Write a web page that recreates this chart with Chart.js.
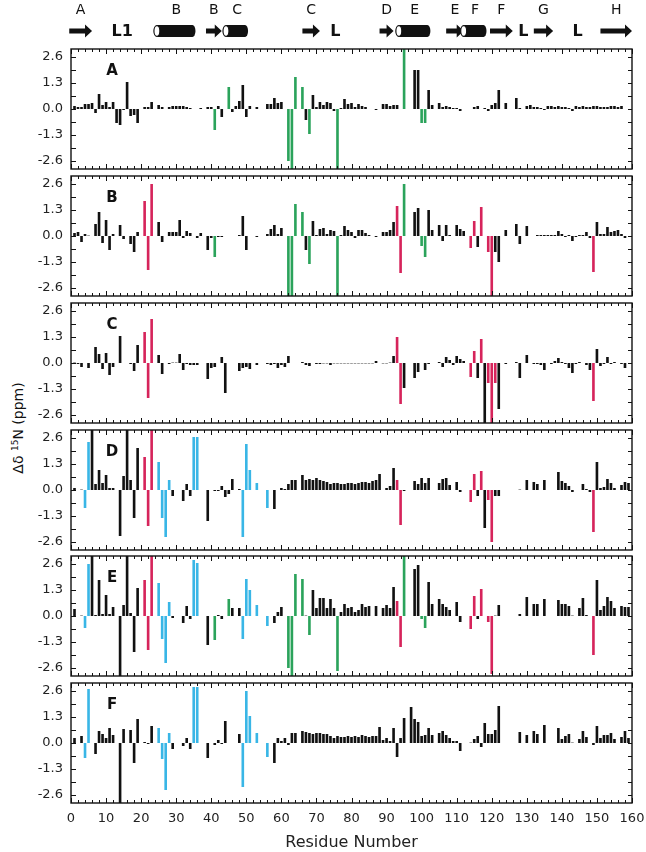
<!DOCTYPE html>
<html>
<head>
<meta charset="utf-8">
<script src="https://cdn.jsdelivr.net/npm/chart.js@4.4.1/dist/chart.umd.min.js"></script>
<style>
  body { margin: 0; background: #fff; width: 646px; height: 852px; position: relative; overflow: hidden; font-family: "DejaVu Sans", sans-serif; }
  canvas { position: absolute; left: 0; }
  #ylab { position: absolute; left: 18px; top: 428px; transform: translate(-50%, -50%) rotate(-90deg); white-space: nowrap; font-size: 14px; color: #111; }
  #ylab sup { font-size: 9px; }
</style>
</head>
<body>
<div id="ylab">Δδ <sup>15</sup>N (ppm)</div>
<script>
// ---- data (chemical shift change per residue, index = residue number) ----
const _ = null;
const panelNames = ['A', 'B', 'C', 'D', 'E', 'F'];
const xTickLabels = ['0', '10', '20', '30', '40', '50', '60', '70', '80', '90', '100', '110', '120', '130', '140', '150', '160'];
const yTickValues = [-2.6, -1.95, -1.3, -0.65, 0, 0.65, 1.3, 1.95, 2.6];
const yTickLabels = ['-2.6', '', '-1.3', '', '0.0', '', '1.3', '', '2.6'];

const shiftA = [
  _, 0.15, 0.1, 0.1, 0.25, 0.25, 0.3, -0.2, 0.75, 0.2,
  0.35, 0.1, 0.35, -0.7, -0.8, -0.05, 1.35, -0.35, -0.3, -0.7,
  _, 0.1, 0.1, 0.35, _, 0.2, 0.1, _, 0.1, 0.15,
  0.15, 0.15, 0.15, 0.1, 0.05, _, _, 0.05, _, 0.1,
  0.1, -1.05, 0.15, -0.4, _, 1.1, -0.15, 0.15, 0.4, 1.2,
  -0.4, 0.15, _, 0.1, _, _, 0.25, 0.25, 0.55, 0.3,
  0.35, _, -2.6, -3.2, 1.6, _, 1.1, -0.55, -1.25, 0.7,
  0.1, 0.35, 0.2, 0.35, 0.3, -0.1, -3.2, 0.05, 0.5, 0.25,
  0.3, 0.1, 0.25, 0.15, 0.1, _, _, -0.05, _, 0.25,
  0.25, 0.15, 0.2, 0.2, _, 3.2, _, _, 1.95, 1.95,
  -0.7, -0.7, 0.95, 0.2, _, 0.3, 0.1, 0.15, 0.1, 0.05,
  0.05, -0.1, _, _, _, 0.1, 0.15, _, 0.05, -0.1,
  0.2, 0.3, 0.95, _, 0.3, _, _, 0.55, 0.05, _,
  0.15, 0.2, 0.1, 0.1, 0.05, -0.05, 0.15, 0.15, 0.1, 0.15,
  0.1, 0.1, 0.05, -0.1, 0.15, 0.1, 0.15, 0.1, 0.1, 0.15,
  0.15, 0.1, 0.1, 0.1, 0.15, 0.15, 0.1, 0.15, _, _
];
const shiftB = [
  _, 0.15, 0.2, -0.3, 0.1, 0.02, _, 0.6, 1.2, -0.35,
  0.8, -0.7, 0.1, _, 0.55, -0.15, _, -0.4, -0.8, 0.2,
  _, 1.75, -1.7, 2.6, _, 0.7, -0.3, _, 0.2, 0.2,
  0.2, 0.8, -0.1, 0.25, 0.15, _, -0.1, 0.15, _, -0.7,
  -0.1, -1.05, -0.05, -0.05, _, _, _, _, 0.05, 1.0,
  -0.7, _, _, -0.05, _, _, 0.1, 0.35, 0.55, 0.1,
  0.4, _, -3.2, -3.2, 1.6, _, 1.2, -0.7, -1.4, 0.75,
  0.05, 0.35, 0.4, 0.1, 0.3, 0.25, -3.2, 0.05, 0.5, 0.3,
  0.2, -0.1, 0.3, 0.3, 0.15, 0.05, _, -0.05, _, 0.2,
  0.2, 0.3, 0.7, 1.5, -1.85, 2.6, _, _, 1.2, 1.4,
  -0.5, -1.05, 1.3, 0.3, _, 0.55, -0.25, 0.55, 0.05, _,
  0.55, 0.35, 0.25, _, -0.6, 0.75, -0.55, 1.45, _, -0.8,
  -3.2, -0.8, -1.3, _, 0.3, _, _, 0.6, -0.4, _,
  0.5, _, _, 0.05, 0.05, 0.05, 0.05, 0.05, 0.05, 0.25,
  0.1, -0.05, 0.05, -0.25, -0.05, 0.05, 0.05, 0.2, -0.1, -1.8,
  0.7, 0.1, 0.1, 0.45, 0.2, 0.25, 0.3, 0.1, -0.1, _
];
const shiftC = [
  _, 0.02, -0.05, -0.2, _, -0.25, _, 0.8, 0.45, -0.3,
  0.5, -0.6, -0.2, _, 1.35, _, _, -0.05, -0.4, 0.9,
  _, 1.55, -1.75, 2.2, _, 0.4, -0.55, _, -0.05, 0.02,
  0.02, 0.45, -0.35, -0.05, -0.1, -0.1, -0.1, _, _, -0.8,
  -0.25, -0.2, _, 0.3, -1.5, _, _, _, -0.4, -0.25,
  -0.2, -0.3, _, -0.1, _, _, -0.05, -0.1, -0.05, -0.25,
  -0.1, -0.2, 0.35, _, _, _, 0.05, -0.1, -0.15, _,
  -0.05, -0.05, -0.02, -0.02, -0.1, -0.02, -0.02, -0.02, -0.02, -0.02,
  -0.02, -0.02, -0.02, -0.02, -0.02, -0.02, -0.02, 0.1, _, -0.02,
  -0.02, 0.02, 0.35, 1.3, -2.05, -1.25, _, _, -0.75, -0.45,
  _, -0.35, -0.05, _, _, 0.05, -0.2, 0.3, 0.15, -0.1,
  0.35, 0.2, 0.1, _, -0.7, 0.6, -0.75, 1.2, -3.2, -1.0,
  -3.2, -1.0, -2.3, _, -0.05, _, _, 0.05, -0.75, _,
  0.4, _, -0.05, -0.05, -0.1, -0.35, _, -0.05, 0.1, 0.25,
  0.05, -0.05, -0.25, -0.5, -0.05, 0.05, _, -0.1, -0.35, -1.9,
  0.7, -0.15, -0.05, 0.3, -0.05, 0.05, _, -0.05, -0.25, _
];
const shiftD = [
  _, 0.1, _, 0.02, -0.9, 2.4, 3.2, 0.3, 1.0, 0.35,
  0.75, 0.1, 0.1, _, -2.3, 0.7, 3.2, 0.5, -1.4, 2.1,
  _, 1.65, -1.8, 3.2, _, 1.4, -1.4, -2.35, 0.5, -0.3,
  _, _, -0.55, 0.3, -0.3, 2.65, 2.65, _, _, -1.55,
  _, -0.05, -0.05, 0.2, -0.35, -0.2, 0.55, _, 0.05, -2.35,
  2.3, 1.0, _, 0.35, _, _, -0.9, _, -0.95, _,
  0.1, 0.05, 0.3, 0.5, 0.5, _, 0.75, 0.5, 0.55, 0.5,
  0.6, 0.5, 0.45, 0.4, 0.3, 0.35, 0.35, 0.3, 0.3, 0.35,
  0.35, 0.3, 0.35, 0.4, 0.4, 0.35, 0.45, 0.5, 0.8, _,
  0.1, 0.2, 1.1, 0.5, -1.75, -0.05, _, _, 0.45, 0.3,
  0.6, 0.35, 0.6, _, _, 0.35, 0.55, 0.6, 0.25, _,
  0.4, -0.1, _, _, -0.6, 0.8, -0.3, 0.95, -1.9, -0.5,
  -2.6, -0.3, -0.3, _, _, _, _, _, 0.02, _,
  0.5, _, 0.4, 0.3, _, 0.5, _, _, _, 0.9,
  0.45, 0.35, 0.2, -0.1, _, _, 0.3, 0.05, -0.1, -2.1,
  1.4, 0.1, 0.15, 0.55, 0.35, 0.1, _, 0.25, 0.4, 0.35
];
const shiftE = [
  _, 0.35, _, 0.02, -0.6, 2.6, 3.2, 0.05, 1.8, 0.1,
  1.05, 0.1, 0.45, _, -3.2, 0.55, 3.2, 0.15, -1.8, 1.4,
  _, 1.8, -1.7, 3.2, _, 1.65, -1.15, -2.35, 0.7, -0.1,
  _, _, -0.35, 0.5, -0.15, 2.8, 2.65, _, _, -1.45,
  _, -1.2, 0.05, -0.15, _, 0.85, 0.4, _, 0.4, -1.15,
  1.85, 1.3, _, 0.55, _, _, -0.5, _, -0.35, 0.2,
  0.45, _, -2.6, -3.2, 2.1, _, 1.85, 0.02, -0.95, 1.3,
  0.4, 0.9, 0.9, 0.4, 0.85, 0.4, -2.75, 0.2, 0.6, 0.4,
  0.45, 0.2, 0.3, 0.6, 0.45, 0.5, _, 0.5, _, 0.4,
  0.55, 0.4, 1.45, 0.75, -1.55, 3.2, _, _, 2.35, 2.55,
  -0.15, -0.6, 1.7, 0.6, _, 0.85, 0.6, 0.45, 0.3, _,
  0.7, -0.3, _, _, -0.65, 1.0, -0.15, 1.35, _, -0.3,
  -2.9, 0.02, 0.55, _, _, _, _, _, 0.1, _,
  0.95, _, 0.6, 0.6, _, 0.85, _, _, _, 0.8,
  0.6, 0.6, 0.5, 0.02, _, 0.4, 0.9, 0.05, _, -1.95,
  1.8, 0.3, 0.5, 0.95, 0.75, 0.4, _, 0.5, 0.45, 0.45
];
const shiftF = [
  _, 0.25, _, 0.35, -0.75, 2.7, _, -0.55, 0.6, 0.45,
  0.25, 0.75, 0.4, _, -3.2, 0.7, _, 0.65, -1.0, 1.2,
  _, 0.05, -0.05, 0.85, _, 0.75, -0.8, -2.35, 0.5, -0.3,
  _, _, -0.15, 0.25, -0.3, 2.8, 2.8, _, _, -0.75,
  _, -0.1, 0.15, -0.05, 1.1, _, _, _, 0.45, -2.2,
  2.6, 1.35, _, 0.5, _, _, -0.7, _, -1.0, 0.25,
  0.1, 0.25, -0.1, 0.5, 0.5, _, 0.6, 0.55, 0.5, 0.45,
  0.5, 0.5, 0.45, 0.45, 0.35, 0.25, 0.35, 0.3, 0.3, 0.35,
  0.3, 0.35, 0.3, 0.4, 0.35, 0.3, 0.35, 0.35, 0.8, 0.15,
  0.25, 0.1, 0.75, -0.7, 0.25, 1.25, _, 1.8, 1.2, 1.05,
  0.35, 0.4, 0.75, 0.4, _, 0.5, 0.6, 0.4, 0.25, 0.1,
  0.1, -0.4, _, _, 0.02, 0.2, 0.35, -0.2, 1.0, 0.45,
  0.45, 0.65, 1.85, _, _, _, _, _, 0.55, _,
  0.4, _, 0.6, 0.45, _, 0.9, _, _, _, 0.75,
  0.2, 0.35, 0.45, 0.02, _, 0.2, 0.6, 0.3, _, -0.1,
  0.85, 0.25, 0.4, 0.4, 0.5, 0.2, _, 0.3, 0.6, 0.25
];

// highlighted residues per panel
const greenA = [41, 45, 62, 63, 64, 66, 68, 76, 95, 100, 101];
const greenB = [41, 62, 63, 64, 66, 68, 76, 95, 100, 101];
const redB = [21, 22, 23, 93, 94, 114, 115, 117, 119, 120, 149];
const redC = [21, 22, 23, 93, 94, 114, 115, 117, 119, 120, 121, 149];
const cyanD = [4, 5, 25, 26, 27, 28, 35, 36, 49, 50, 51, 53, 56];
const redD = [21, 22, 23, 93, 94, 114, 115, 117, 119, 120, 149];
const greenE = [41, 45, 62, 63, 64, 66, 68, 76, 95, 100, 101];
const redE = [21, 22, 23, 93, 94, 114, 115, 117, 119, 120, 149];
const cyanE = [4, 5, 25, 26, 27, 28, 35, 36, 49, 50, 51, 53, 56];
const cyanF = [4, 5, 25, 26, 27, 28, 35, 36, 49, 50, 51, 53, 56];

// secondary structure along the top (residue ranges)
const ssKind  = ['strand', 'helix', 'strand', 'helix', 'strand', 'strand', 'helix', 'strand', 'helix', 'strand', 'strand', 'strand'];
const ssName  = ['A', 'B', 'B', 'C', 'C', 'D', 'E', 'E', 'F', 'F', 'G', 'H'];
const ssStart = [-0.5, 24.5, 38.5, 44.2, 66, 88, 93.5, 107, 112, 119.5, 132, 151];
const ssEnd   = [6, 35.5, 43, 50.5, 71, 92, 102.5, 112, 118.5, 126, 137.5, 160];
const loopName = ['L1', 'L', 'L', 'L'];
const loopPos  = [14.6, 75.4, 129, 144.5];

// ---- layout / style ----
const COLORS = { k: '#111111', g: '#2ba35b', r: '#d6245b', c: '#39b6e6' };
const PANEL_TOPS = [49, 176, 303, 430, 556, 683];
const PANEL_H = 120;
const FONT = '"DejaVu Sans", sans-serif';

const panels = [
  { data: shiftA, g: greenA },
  { data: shiftB, g: greenB, r: redB },
  { data: shiftC, r: redC },
  { data: shiftD, c: cyanD, r: redD },
  { data: shiftE, g: greenE, r: redE, c: cyanE },
  { data: shiftF, c: cyanF }
];

function drawArrow(ctx, x1, x2, yc) {
  const head = 7;
  ctx.beginPath();
  ctx.moveTo(x1, yc - 2.5);
  ctx.lineTo(x2 - head, yc - 2.5);
  ctx.lineTo(x2 - head, yc - 6.5);
  ctx.lineTo(x2, yc);
  ctx.lineTo(x2 - head, yc + 6.5);
  ctx.lineTo(x2 - head, yc + 2.5);
  ctx.lineTo(x1, yc + 2.5);
  ctx.closePath();
  ctx.fill();
}

function drawHelix(ctx, x1, x2, yc) {
  const hh = 6, rx = 3;
  ctx.beginPath();
  ctx.moveTo(x1, yc - hh);
  ctx.lineTo(x2 - rx, yc - hh);
  ctx.ellipse(x2 - rx, yc, rx, hh, 0, -Math.PI / 2, Math.PI / 2);
  ctx.lineTo(x1, yc + hh);
  ctx.closePath();
  ctx.fill();
  ctx.save();
  ctx.fillStyle = '#fff';
  ctx.lineWidth = 1.2;
  ctx.beginPath();
  ctx.ellipse(x1, yc, rx, hh - 0.6, 0, 0, Math.PI * 2);
  ctx.fill();
  ctx.stroke();
  ctx.restore();
}

// header with secondary structure, drawn with the x scale of the top panel
const headerPlugin = {
  id: 'header',
  afterDraw(chart) {
    const { ctx, scales: { x } } = chart;
    ctx.save();
    ctx.fillStyle = '#111';
    ctx.strokeStyle = '#111';
    ctx.textAlign = 'center';
    ctx.textBaseline = 'middle';
    ssKind.forEach((kind, i) => {
      const x1 = x.getPixelForValue(ssStart[i]);
      const x2 = x.getPixelForValue(ssEnd[i]);
      if (kind === 'strand') drawArrow(ctx, x1, x2, 31);
      else drawHelix(ctx, x1, x2, 31);
      ctx.font = '14px ' + FONT;
      ctx.fillText(ssName[i], (x1 + x2) / 2, 10);
    });
    ctx.font = 'bold 16px ' + FONT;
    loopName.forEach((name, i) => ctx.fillText(name, x.getPixelForValue(loopPos[i]), 32));
    ctx.restore();
  }
};

// box, inward ticks and panel letter
const framePlugin = {
  id: 'frame',
  afterDraw(chart, args, opts) {
    const { ctx, chartArea: a, scales: { x, y } } = chart;
    ctx.save();
    ctx.strokeStyle = '#111';
    ctx.lineWidth = 1.4;
    ctx.strokeRect(a.left, a.top, a.right - a.left, a.bottom - a.top);
    ctx.lineWidth = 1;
    ctx.beginPath();
    for (let r = 0; r <= 160; r += 2) {
      const px = Math.round(x.getPixelForValue(r)) + 0.5;
      const len = r % 10 === 0 ? 5 : 3;
      ctx.moveTo(px, a.top); ctx.lineTo(px, a.top + len);
      ctx.moveTo(px, a.bottom); ctx.lineTo(px, a.bottom - len);
    }
    yTickValues.forEach(v => {
      const py = Math.round(y.getPixelForValue(v)) + 0.5;
      ctx.moveTo(a.left, py); ctx.lineTo(a.left + 5, py);
      ctx.moveTo(a.right, py); ctx.lineTo(a.right - 4, py);
    });
    ctx.stroke();
    ctx.fillStyle = '#111';
    ctx.font = 'bold 15px ' + FONT;
    ctx.textAlign = 'center';
    ctx.textBaseline = 'middle';
    ctx.fillText(opts.letter, x.getPixelForValue(11.7), a.top + 22);
    ctx.restore();
  }
};

function colorFor(panel, idx) {
  if (panel.g && panel.g.includes(idx)) return COLORS.g;
  if (panel.r && panel.r.includes(idx)) return COLORS.r;
  if (panel.c && panel.c.includes(idx)) return COLORS.c;
  return COLORS.k;
}

panels.forEach((panel, i) => {
  const isFirst = i === 0;
  const isLast = i === panels.length - 1;
  const top = PANEL_TOPS[i];
  const padTop = isFirst ? top : 8;
  const padBottom = isLast ? 0 : 8;
  const axisH = isLast ? 852 - (top + PANEL_H) : 0;
  const h = padTop + PANEL_H + padBottom + axisH;

  const cv = document.createElement('canvas');
  cv.width = 646;
  cv.height = h;
  cv.style.top = (top - padTop) + 'px';
  cv.style.width = '646px';
  cv.style.height = h + 'px';
  document.body.appendChild(cv);

  const pts = panel.data.map((v, r) => ({ x: r, y: v }));

  new Chart(cv, {
    type: 'bar',
    data: {
      datasets: [{
        data: pts,
        backgroundColor: pts.map(p => colorFor(panel, p.x)),
        borderWidth: 0,
        categoryPercentage: 1,
        barPercentage: 0.75
      }]
    },
    options: {
      responsive: false,
      animation: false,
      layout: { padding: { top: padTop, bottom: padBottom, left: 0, right: 14 } },
      plugins: {
        legend: { display: false },
        tooltip: { enabled: false },
        frame: { letter: panelNames[i] }
      },
      scales: {
        x: {
          type: 'linear',
          min: 0,
          max: 160,
          offset: false,
          display: isLast,
          grid: { display: false, drawTicks: false },
          border: { display: false },
          afterBuildTicks: s => { s.ticks = xTickLabels.map(l => ({ value: Number(l) })); },
          ticks: {
            callback: (v, k) => xTickLabels[k],
            font: { family: FONT, size: 13 },
            color: '#222',
            padding: 8,
            maxRotation: 0,
            autoSkip: false
          },
          title: {
            display: true,
            text: 'Residue Number',
            font: { family: FONT, size: 16 },
            color: '#222',
            padding: { top: 0, bottom: 0 }
          },
          afterFit: s => { s.height = axisH; s.paddingLeft = 0; s.paddingRight = 0; }
        },
        y: {
          min: -3,
          max: 3,
          grid: { display: false, drawTicks: false },
          border: { display: false },
          afterBuildTicks: s => { s.ticks = yTickValues.map(v => ({ value: v })); },
          ticks: {
            callback: (v, k) => yTickLabels[k],
            font: { family: FONT, size: 13 },
            color: '#222',
            padding: 8
          },
          afterFit: s => { s.width = 71; s.paddingTop = 0; s.paddingBottom = 0; }
        }
      }
    },
    plugins: isFirst ? [framePlugin, headerPlugin] : [framePlugin]
  });
});
</script>
</body>
</html>
